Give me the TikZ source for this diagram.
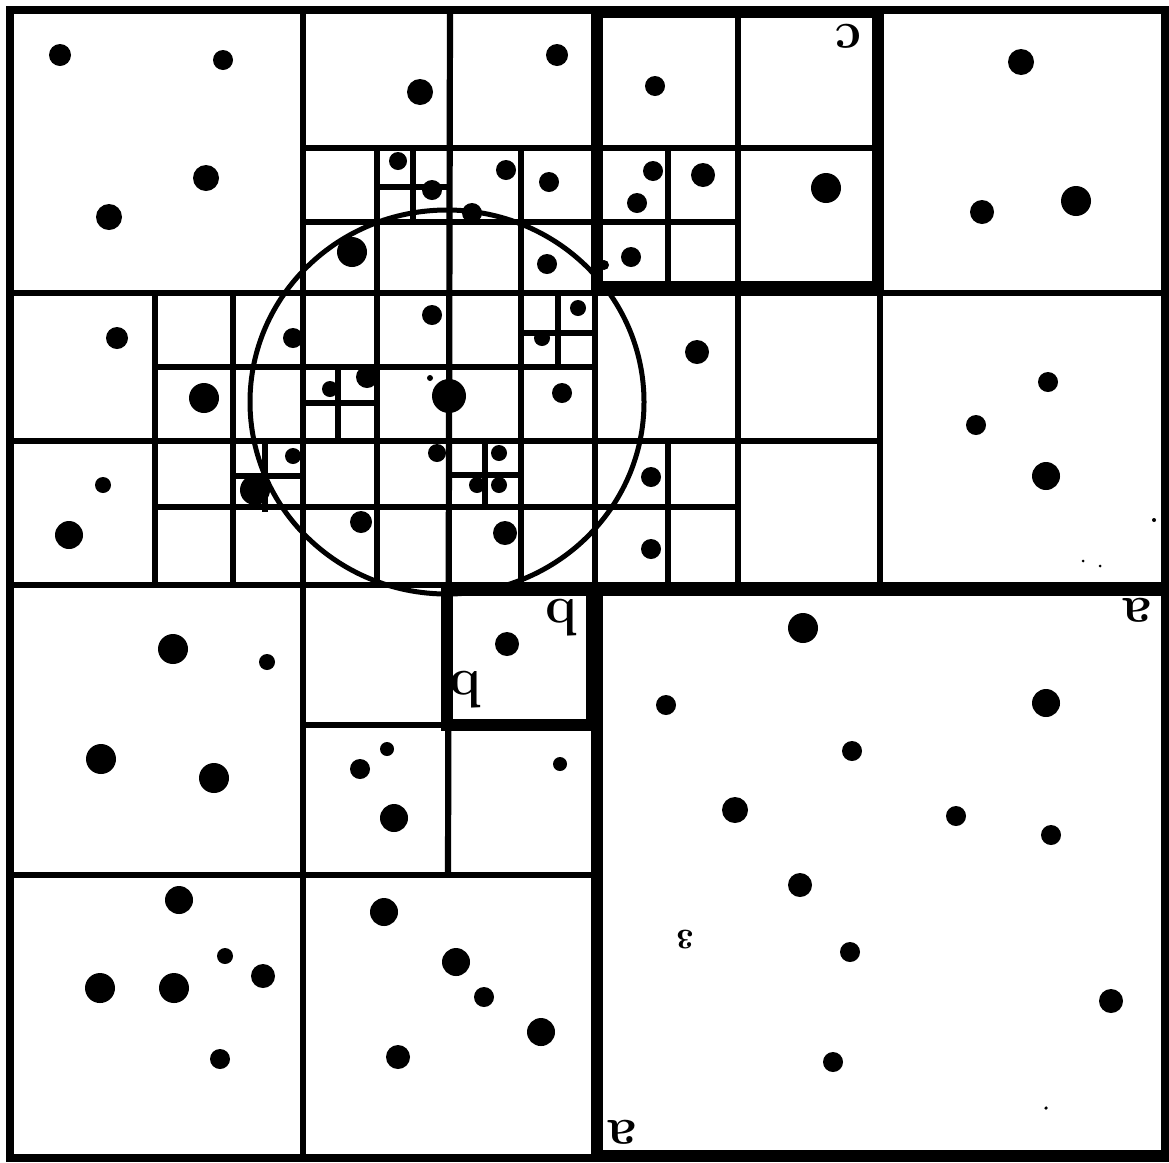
\documentclass[tikz,border=0pt]{standalone}
\begin{document}
\begin{tikzpicture}[x=0.1mm, y=-0.1mm,
  cell/.style={line width=0.62mm},
  heavy/.style={line width=1.15mm},
  lbl/.style={font=\fontsize{15}{17}\selectfont\bfseries, rotate=180, inner sep=0pt}]
  \useasboundingbox (0,0) rectangle (1169,1162);

  % main frame and first splits
  \draw[line width=0.85mm] (10,10) rectangle (1165,1158);
  \draw[cell] (303,10) -- (303,1158);
  \draw[cell] (595,10) -- (595,1158);
  \draw[cell] (450,10) -- (448,875);
  \draw[cell] (738,10) -- (738,585);
  \draw[cell] (880,10) -- (880,585);
  \draw[cell] (10,293) -- (1165,293);
  \draw[cell] (10,585) -- (1165,585);
  \draw[cell] (10,875) -- (595,875);
  \draw[cell] (10,441) -- (880,441);
  \draw[cell] (303,148) -- (880,148);
  \draw[cell] (303,222) -- (738,222);
  \draw[cell] (155,367) -- (595,367);
  \draw[cell] (155,507) -- (738,507);
  \draw[cell] (303,725) -- (447,725);
  \draw[cell] (155,293) -- (155,585);
  \draw[cell] (233,293) -- (233,585);
  \draw[cell] (377,148) -- (377,585);
  \draw[cell] (521,148) -- (521,585);
  \draw[cell] (668,148) -- (668,287);
  \draw[cell] (668,441) -- (668,585);

  % finest cells
  \draw[cell] (413,148) -- (413,222);
  \draw[cell] (377,187) -- (450,187);
  \draw[cell] (265,441) -- (265,512);
  \draw[cell] (233,476) -- (303,476);
  \draw[cell] (338,367) -- (338,441);
  \draw[cell] (303,403) -- (377,403);
  \draw[cell] (558,293) -- (558,367);
  \draw[cell] (521,333) -- (595,333);
  \draw[cell] (485,441) -- (485,507);
  \draw[cell] (450,475) -- (521,475);

  % marked cells
  \draw[heavy] (597,12) rectangle (878,287);
  \draw[heavy] (447,590) rectangle (592,725);
  \draw[heavy] (595,590) -- (1163,590);
  \draw[heavy] (597,590) -- (597,1156) -- (1163,1156);

  \draw[line width=0.5mm] (447,402) ellipse[x radius=197, y radius=192];

  \foreach \x/\y/\r in {60/55/11, 223/60/10, 206/178/13, 109/217/13,
      420/92/13, 557/55/11, 398/161/9, 432/190/10, 506/170/10, 549/182/10,
      472/213/10, 352/252/15, 547/264/10, 293/338/10, 204/398/15,
      330/389/8, 367/377/11, 432/315/10, 430/378/3, 449/396/17,
      542/338/8, 578/308/8, 562/393/10, 293/456/8, 255/490/15,
      361/522/11, 437/453/9, 499/453/8, 477/485/8, 499/485/8,
      505/533/12, 117/338/11, 103/485/8, 69/535/14,
      655/86/10, 703/175/12, 653/171/10, 637/203/10, 631/257/10,
      826/188/15, 604/265/5, 1021/62/13, 982/212/12, 1076/201/15,
      697/352/12, 1048/382/10, 976/425/10, 1046/476/14, 651/477/10,
      651/549/10, 1154/520/2, 1083/561/1.5, 1100/566/1.5,
      173/649/15, 267/662/8, 101/759/15, 214/778/15,
      507/644/12, 387/749/7, 360/769/10, 394/818/14, 560/764/7,
      179/900/14, 225/956/8, 100/988/15, 174/988/15, 263/976/12,
      220/1059/10, 384/912/14, 456/962/14, 484/997/10, 541/1032/14,
      398/1057/12,
      803/628/15, 666/705/10, 1046/703/14, 852/751/10, 735/810/13,
      956/816/10, 1051/835/10, 800/885/12, 850/952/10, 1111/1001/12,
      833/1062/10, 1046/1108/1.8}
    \fill (\x,\y) circle[radius=\r];

  \node[lbl] (c) at (848,36) {c};
  \node[lbl] (b1) at (562,618) {b};
  \node[lbl] (b2) at (466,690) {b};
  \node[lbl] (a1) at (1137,610) {a};
  \node[lbl] (a2) at (622,1132) {a};
  \node[lbl, font=\fontsize{8}{9}\selectfont\bfseries] (e) at (685,940) {3};
\end{tikzpicture}
\end{document}
